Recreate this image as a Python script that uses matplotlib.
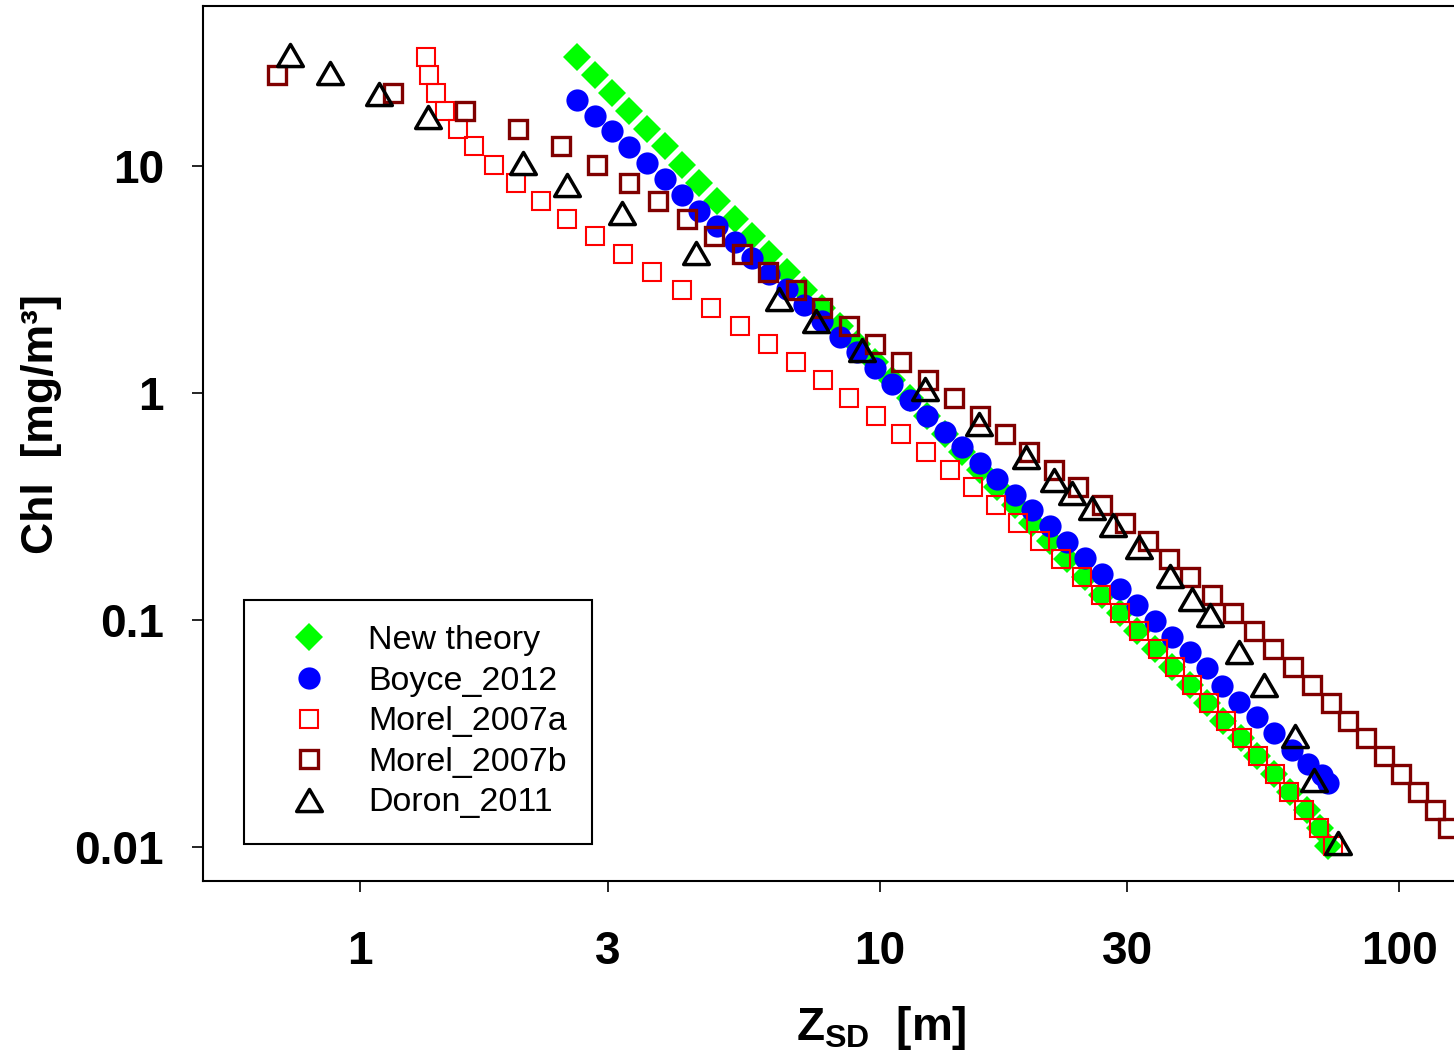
import matplotlib
matplotlib.use("Agg")
import matplotlib.pyplot as plt
import matplotlib.path as mpath

plt.rcParams['font.family'] = ['Liberation Sans', 'DejaVu Sans']
plt.rcParams['mathtext.fontset'] = 'custom'
plt.rcParams['mathtext.rm'] = 'Liberation Sans'
plt.rcParams['mathtext.bf'] = 'Liberation Sans:bold'

# New theory
new_z = [2.62, 2.83, 3.06, 3.30, 3.57, 3.86, 4.17, 4.50, 4.87, 5.26, 5.68, 6.14, 6.64, 7.17, 7.75,
         8.38, 9.05, 9.78, 10.57, 11.43, 12.35, 13.35, 14.42, 15.58, 16.84, 18.20, 19.67, 21.26,
         22.97, 24.83, 26.83, 29.0, 31.3, 33.9, 36.6, 39.6, 42.7, 45.8, 49.6, 53.3, 57.5, 61.7,
         66.5, 70.5, 73.0]
new_chl = [30.2, 25.2, 21.0, 17.5, 14.6, 12.2, 10.1, 8.45, 7.05, 5.87, 4.90, 4.08, 3.40, 2.84, 2.37,
           1.97, 1.64, 1.37, 1.14, 0.953, 0.794, 0.662, 0.552, 0.460, 0.384, 0.320, 0.267, 0.222,
           0.185, 0.155, 0.129, 0.107, 0.0895, 0.0746, 0.0622, 0.0519, 0.0433, 0.0361, 0.0301,
           0.0251, 0.0209, 0.0174, 0.0145, 0.0121, 0.0101]

# Boyce_2012
boyce_z = [2.62, 2.83, 3.06, 3.30, 3.57, 3.86, 4.17, 4.50, 4.87, 5.26, 5.68, 6.14, 6.64, 7.17, 7.75,
           8.38, 9.05, 9.78, 10.57, 11.43, 12.35, 13.35, 14.42, 15.58, 16.84, 18.20, 19.67, 21.26,
           22.97, 24.83, 26.83, 29.0, 31.3, 33.9, 36.6, 39.6, 42.7, 45.6, 49.2, 53.3, 57.5, 62.2,
           66.8, 71.1, 73.0]
boyce_chl = [19.5, 16.6, 14.2, 12.1, 10.3, 8.77, 7.47, 6.37, 5.43, 4.62, 3.94, 3.36, 2.86, 2.44, 2.08,
             1.77, 1.51, 1.285, 1.095, 0.933, 0.795, 0.677, 0.577, 0.492, 0.419, 0.357, 0.304,
             0.259, 0.221, 0.188, 0.160, 0.137, 0.116, 0.0992, 0.0845, 0.0720, 0.0614, 0.0512,
             0.0435, 0.0374, 0.0318, 0.0268, 0.0232, 0.0208, 0.0191]

# Morel_2007a
morel_a_z = [1.338, 1.358, 1.399, 1.458, 1.544, 1.657, 1.811, 1.997, 2.227, 2.503, 2.828, 3.208,
             3.649, 4.158, 4.733, 5.378, 6.101, 6.908, 7.785, 8.737, 9.85, 11.0, 12.27, 13.64,
             15.14, 16.73, 18.48, 20.37, 22.36, 24.48, 26.63, 29.03, 31.6, 34.3, 37.1, 40.0, 43.1,
             46.5, 49.8, 53.6, 57.6, 61.3, 65.7, 70.0, 74.6]
morel_a_chl = [30.2, 25.2, 21.0, 17.5, 14.6, 12.2, 10.1, 8.45, 7.05, 5.87, 4.90, 4.08, 3.40, 2.84,
               2.37, 1.97, 1.64, 1.37, 1.14, 0.953, 0.794, 0.662, 0.552, 0.460, 0.384, 0.320,
               0.267, 0.222, 0.185, 0.155, 0.129, 0.107, 0.0895, 0.0746, 0.0622, 0.0519, 0.0433,
               0.0361, 0.0301, 0.0251, 0.0209, 0.0174, 0.0145, 0.0121, 0.0101]

# Morel_2007b
morel_b_z = [0.691, 1.157, 1.596, 2.014, 2.434, 2.855, 3.295, 3.746, 4.255, 4.801, 5.426, 6.101,
             6.892, 7.762, 8.726, 9.80, 11.01, 12.38, 13.91, 15.58, 17.41, 19.39, 21.65, 24.11,
             26.81, 29.69, 32.87, 36.08, 39.60, 43.56, 47.86, 52.54, 57.21, 62.37, 68.0, 74.0,
             79.8, 86.4, 93.6, 100.9, 108.8, 117.3, 124.3]
morel_b_chl = [25.2, 21.0, 17.5, 14.6, 12.2, 10.1, 8.45, 7.05, 5.87, 4.90, 4.08, 3.40, 2.84, 2.37,
               1.97, 1.64, 1.37, 1.14, 0.953, 0.794, 0.662, 0.552, 0.460, 0.384, 0.320, 0.267,
               0.222, 0.185, 0.155, 0.129, 0.107, 0.0895, 0.0746, 0.0622, 0.0519, 0.0433, 0.0361,
               0.0301, 0.0251, 0.0209, 0.0174, 0.0145, 0.0121]

# Doron_2011
doron_z = [0.733, 0.877, 1.090, 1.349, 2.063, 2.506, 3.198, 4.435, 6.392, 7.546, 9.255, 12.26,
           15.51, 19.10, 21.68, 23.47, 25.65, 28.15, 31.59, 36.24, 39.95, 43.17, 49.20, 54.86,
           63.07, 68.62, 76.3]
doron_chl = [30.8, 25.8, 20.8, 16.5, 10.3, 8.25, 6.19, 4.13, 2.59, 2.08, 1.55, 1.04, 0.727, 0.522,
             0.416, 0.363, 0.311, 0.262, 0.210, 0.156, 0.124, 0.105, 0.0725, 0.0517, 0.0308,
             0.0197, 0.0104]

x_ticks = [1, 3, 10, 30, 100]
x_ticklabels = ['1', '3', '10', '30', '100']
y_ticks = [10, 1, 0.1, 0.01]
y_ticklabels = ['10', '1', '0.1', '0.01']

# open triangle a bit wider than tall
tri = mpath.Path([(-1, -0.86), (1, -0.86), (0, 0.86), (-1, -0.86)], closed=True)

fig = plt.figure(figsize=(14.54, 10.56), dpi=100)
# the axes run past the right edge of the picture (cropped original)
ax = fig.add_axes([203 / 1454, 175 / 1056, 1356 / 1454, 875 / 1056])

ax.plot(new_z, new_chl, ls='none', marker='D', ms=14, mew=0, color='#00ff00', label='New theory')
ax.plot(boyce_z, boyce_chl, ls='none', marker='o', ms=16, mew=0, color='#0000ff', label='Boyce_2012')
ax.plot(morel_a_z, morel_a_chl, ls='none', marker='s', ms=12.7, mew=1.5, mfc='none',
        mec='#ff0000', label='Morel_2007a')
ax.plot(morel_b_z, morel_b_chl, ls='none', marker='s', ms=12.5, mew=2.4, mfc='none',
        mec='#800000', label='Morel_2007b')
ax.plot(doron_z, doron_chl, ls='none', marker=tri, ms=18.5, mew=2.5, mfc='none',
        mec='black', label='Doron_2011')

ax.set_xscale('log')
ax.set_yscale('log')
ax.set_xlim(0.4986, 203.2)
ax.set_ylim(0.00709, 50.7)

ax.set_xticks(x_ticks)
ax.set_xticklabels(x_ticklabels)
ax.set_yticks(y_ticks)
ax.set_yticklabels(y_ticklabels)
ax.minorticks_off()
ax.tick_params(axis='both', direction='out', length=8, width=1.2, labelsize=33)
ax.tick_params(axis='x', pad=27)
ax.tick_params(axis='y', pad=20)
for lab in ax.get_xticklabels() + ax.get_yticklabels():
    lab.set_fontweight('bold')

for sp in ax.spines.values():
    sp.set_linewidth(1.5)

ax.set_xlabel(r'$\mathbf{Z}_{\mathbf{SD}}$  [m]', fontsize=33, fontweight='bold', labelpad=22)
ax.set_ylabel('Chl  [mg/m³]', fontsize=32, fontweight='bold')
ax.yaxis.set_label_coords(-0.104, 0.522)

leg = ax.legend(loc='lower left', bbox_to_anchor=(0.0302, 0.0423), borderaxespad=0,
                fontsize=24.5, frameon=True, fancybox=False, edgecolor='black',
                framealpha=1, borderpad=0.75, handlelength=2.3, handletextpad=0.6,
                labelspacing=0.28, numpoints=1)
leg.get_frame().set_linewidth(1.5)

fig.savefig('out.png', dpi=100)
